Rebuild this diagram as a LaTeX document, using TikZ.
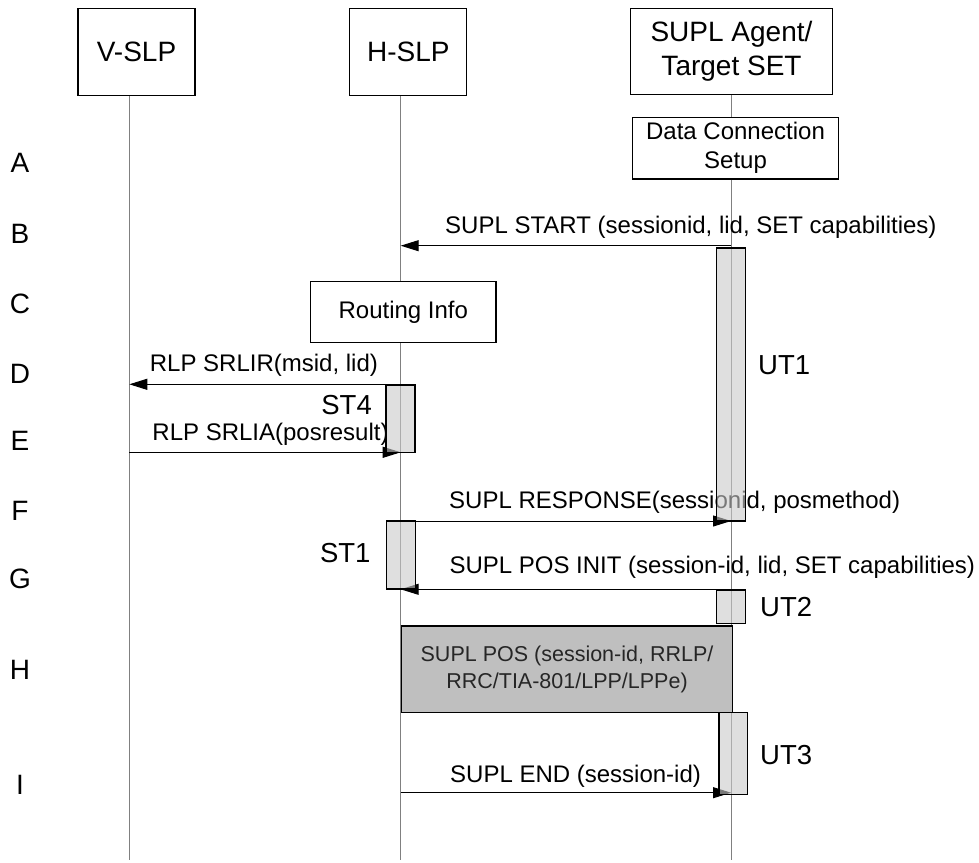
\documentclass[tikz,border=0pt]{standalone}
\usepackage{fontspec}
\setmainfont{Liberation Sans}
\usetikzlibrary{arrows.meta}
\begin{document}
\begin{tikzpicture}[x=1pt,y=-1pt,
  hdr/.style={draw=black, line width=1.2pt, fill=white, align=center, inner sep=0pt,
    font=\fontsize{28}{34}\selectfont},
  procbox/.style={draw=black, line width=1.2pt, fill=white, align=center, inner sep=0pt,
    font=\fontsize{24}{29}\selectfont},
  posbox/.style={draw=black, line width=1.2pt, fill=black!25, align=center, inner sep=0pt,
    text=black!85, font=\fontsize{21.5}{27}\selectfont},
  timer/.style={draw=black, line width=1.2pt, fill=black!21, fill opacity=0.6, draw opacity=1,
    inner sep=0pt, minimum width=29pt},
  life/.style={draw=black!50, line width=1pt},
  msgarrow/.style={draw=black, line width=1pt, -{Triangle[length=18pt,width=11pt]}},
  msg/.style={inner sep=0pt, font=\fontsize{24}{28}\selectfont},
  tlabel/.style={inner sep=0pt, font=\fontsize{27.5}{32}\selectfont},
  rowlabel/.style={inner sep=0pt, font=\fontsize{28}{32}\selectfont}
]
\useasboundingbox (0,0) rectangle (979,862);

% lifeline coordinates
\coordinate (vX) at (129.3,860);
\coordinate (hX) at (400.7,860);
\coordinate (sX) at (731,860);

% header boxes (positions only, drawn later)
\path (136.5,51.7) node[hdr, minimum width=117pt, minimum height=87pt] (vslp) {V-SLP};
\path (408.3,51.7) node[hdr, minimum width=117pt, minimum height=87pt] (hslp) {H-SLP};
\path (731.5,51.3) node[hdr, minimum width=202pt, minimum height=86pt] (set) {SUPL Agent/\\Target SET};

% lifelines
\draw[life] (vslp.south -| vX) -- (vX);
\draw[life] (hslp.south -| hX) -- (hX);
\draw[life] (set.south -| sX) -- (sX);

% boxes over lifelines
\node[hdr, minimum width=117pt, minimum height=87pt] at (vslp) {V-SLP};
\node[hdr, minimum width=117pt, minimum height=87pt] at (hslp) {H-SLP};
\node[hdr, minimum width=202pt, minimum height=86pt] at (set) {SUPL Agent/\\Target SET};
\node[procbox, minimum width=205.6pt, minimum height=61.7pt] (dcs) at (735.5,148.2) {Data Connection\\Setup};
\node[procbox, minimum width=185.3pt, minimum height=61pt] (ri) at (403.3,312.2) {Routing Info};
\node[posbox, minimum width=330.6pt, minimum height=86.3pt] (pos) at (567,669.2) {SUPL POS (session-id, RRLP/\\RRC/TIA-801/LPP/LPPe)};

% row labels
\node[rowlabel] (rA) at (20,163) {A};
\node[rowlabel] (rB) at (20,234) {B};
\node[rowlabel] (rC) at (20,304) {C};
\node[rowlabel] (rD) at (20,374) {D};
\node[rowlabel] (rE) at (20,441) {E};
\node[rowlabel] (rF) at (20,511) {F};
\node[rowlabel] (rG) at (20,579) {G};
\node[rowlabel] (rH) at (20,670) {H};
\node[rowlabel] (rI) at (20,785) {I};

% message endpoints
\coordinate (sB) at (731,245.7);   \coordinate (hB) at (400.7,245.7);
\coordinate (hD) at (400.7,384.3); \coordinate (vD) at (129.3,384.3);
\coordinate (vE) at (129.3,452.3); \coordinate (hE) at (400.7,452.3);
\coordinate (hF) at (400.7,521);   \coordinate (sF) at (731,521);
\coordinate (sG) at (731,589.3);   \coordinate (hG) at (400.7,589.3);
\coordinate (hI) at (400.7,792.7); \coordinate (sI) at (731,792.7);

% messages
\draw[msgarrow] (sB) -- (hB);
\node[msg, anchor=east] (lB) at (936.7,227.7) {SUPL START (sessionid, lid, SET capabilities)};
\draw[msgarrow] (hD) -- (vD);
\node[msg] (lD) at (263.9,365) {RLP SRLIR(msid, lid)};
\draw[msgarrow] (vE) -- (hE);
\node[msg] (lE) at (270.5,434) {RLP SRLIA(posresult)};
\draw[msgarrow] (hF) -- (sF);
\node[msg, anchor=west] (lF) at (449,502) {SUPL RESPONSE(sessionid, posmethod)};
\draw[msgarrow] (sG) -- (hG);
\node[msg, anchor=west] (lG) at (449.3,567) {SUPL POS INIT (session-id, lid, SET capabilities)};
\draw[msgarrow] (hI) -- (sI);
\node[msg, anchor=west] (lI) at (450,776.7) {SUPL END (session-id)};

% timers
\node[timer, minimum height=273pt] (ut1) at (731.2,384.5) {};
\node[timer, minimum height=67.5pt] (st4) at (400.5,418.75) {};
\node[timer, minimum height=68pt] (st1) at (400.6,555) {};
\node[timer, minimum height=33.3pt] (ut2) at (731.3,606.7) {};
\node[timer, minimum height=81.8pt, minimum width=28.7pt] (ut3) at (733.3,753.4) {};

\node[tlabel, anchor=west] (tUT1) at (758,365) {UT1};
\node[tlabel, anchor=east] (tST4) at (372,405.5) {ST4};
\node[tlabel, anchor=east] (tST1) at (370.7,553) {ST1};
\node[tlabel, anchor=west] (tUT2) at (760,606.7) {UT2};
\node[tlabel, anchor=west] (tUT3) at (760,755) {UT3};
\end{tikzpicture}
\end{document}
